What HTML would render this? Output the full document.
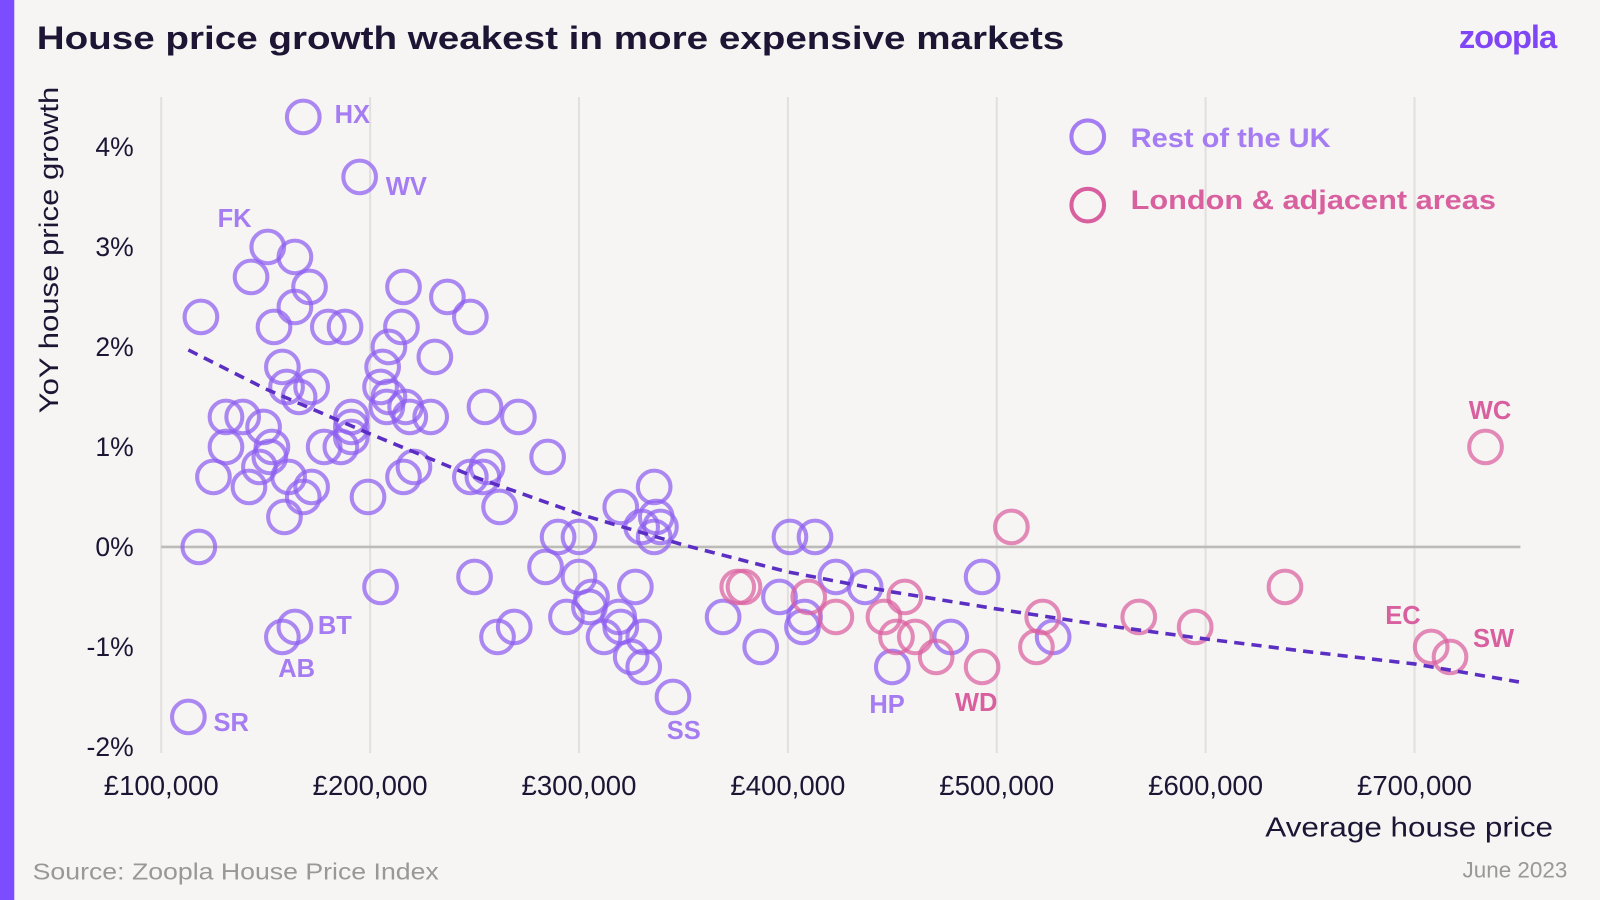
<!DOCTYPE html>
<html><head><meta charset="utf-8"><style>
html,body{margin:0;padding:0;background:#f6f5f3;}
svg{display:block;font-family:"Liberation Sans",sans-serif;}
</style></head><body>
<svg id="chart" width="1600" height="900" viewBox="0 0 1568 882" xmlns="http://www.w3.org/2000/svg">
<rect width="1568" height="882" fill="#f6f5f3"/>
<rect x="0" y="0" width="14" height="882" fill="#7c4dff"/>
<text x="36" y="48" font-size="32" font-weight="bold" fill="#1e1535" textLength="1007" lengthAdjust="spacingAndGlyphs">House price growth weakest in more expensive markets</text>
<text x="1525" y="47" text-anchor="end" font-size="32" font-weight="bold" fill="#8046f5" letter-spacing="-1">zoopla</text>
<g id="grid"></g>
<g id="marks"></g>
<g id="labels"></g>
<text transform="translate(57,245) rotate(-90)" text-anchor="middle" font-size="26" fill="#1e1535" textLength="320" lengthAdjust="spacingAndGlyphs">YoY house price growth</text>
<text x="1522" y="820" text-anchor="end" font-size="27" fill="#1e1535" textLength="282" lengthAdjust="spacingAndGlyphs">Average house price</text>
<text x="32" y="862" font-size="23" fill="#9a9794" textLength="398" lengthAdjust="spacingAndGlyphs">Source: Zoopla House Price Index</text>
<text x="1536" y="860" text-anchor="end" font-size="22" fill="#9a9794">June 2023</text>
<g>
<circle cx="1066" cy="134" r="16" fill="none" stroke="#a57cf2" stroke-width="4"/>
<text x="1108" y="144" font-size="26" font-weight="bold" fill="#a57cf2" textLength="196" lengthAdjust="spacingAndGlyphs">Rest of the UK</text>
<circle cx="1066" cy="201" r="16" fill="none" stroke="#d9609f" stroke-width="4"/>
<text x="1108" y="205" font-size="26" font-weight="bold" fill="#d9609f" textLength="358" lengthAdjust="spacingAndGlyphs">London &amp; adjacent  areas</text>
</g>
</svg>
<script>
const xTicks=[100,200,300,400,500,600,700];
const yTicks=[4,3,2,1,0,-1,-2];
const restX=[168,195,151,164,143,171,164,119,154,180,188,158,160,172,166,131,139,149,153,131,152,147,161,125,142,172,168,159,118,178,186,191,191,191,216,215,209,206,205,209,208,217,219,229,231,237,248,221,216,199,255,271,285,248,256,254,262,205,250,158,164,113,290,300,284,300,306,305,294,261,269,320,336,337,330,339,336,327,319,320,312,331,325,331,345,369,387,401,413,396,407,408,423,437,450,478,493,527];
const restY=[4.3,3.7,3.0,2.9,2.7,2.6,2.4,2.3,2.2,2.2,2.2,1.8,1.6,1.6,1.5,1.3,1.3,1.2,1.0,1.0,0.9,0.8,0.7,0.7,0.6,0.6,0.5,0.3,0.0,1.0,1.0,1.1,1.2,1.3,2.6,2.2,2.0,1.8,1.6,1.5,1.4,1.4,1.3,1.3,1.9,2.5,2.3,0.8,0.7,0.5,1.4,1.3,0.9,0.7,0.8,0.7,0.4,-0.4,-0.3,-0.9,-0.8,-1.7,0.1,0.1,-0.2,-0.3,-0.5,-0.6,-0.7,-0.9,-0.8,0.4,0.6,0.3,0.2,0.2,0.1,-0.4,-0.7,-0.8,-0.9,-0.9,-1.1,-1.2,-1.5,-0.7,-1.0,0.1,0.1,-0.5,-0.8,-0.7,-0.3,-0.4,-1.2,-0.9,-0.3,-0.9];
const londonX=[376,379,410,423,446,452,461,456,471,493,507,522,519,568,595,638,708,717,734];
const londonY=[-0.4,-0.4,-0.5,-0.7,-0.7,-0.9,-0.9,-0.5,-1.1,-1.2,0.2,-0.7,-1.0,-0.7,-0.8,-0.4,-1.0,-1.1,1.0];
const trendX=[113,150,200,250,300,350,400,450,500,550,600,650,700,750];
const trendY=[1.97,1.58,1.13,0.70,0.33,0.02,-0.25,-0.45,-0.62,-0.78,-0.92,-1.05,-1.17,-1.35];
const labelNames=["HX","WV","FK","BT","AB","SR","SS","HP","WD","EC","SW","WC"];
const labelX=[183,207.5,127,175,156,125,342,439,480,686,728,726];
const labelY=[4.24,3.52,3.2,-0.87,-1.30,-1.84,-1.92,-1.66,-1.64,-0.77,-1.0,1.28];
const labelLondon=[0,0,0,0,0,0,0,0,1,1,1,1];

const NS="http://www.w3.org/2000/svg";
const xs=v=>158+(v-100)*2.047;
const ys=v=>536-v*98;
function mk(tag,attrs,parent){const e=document.createElementNS(NS,tag);for(const k in attrs)e.setAttribute(k,attrs[k]);parent.appendChild(e);return e;}
const grid=document.getElementById('grid'),marks=document.getElementById('marks'),labels=document.getElementById('labels');
xTicks.forEach(t=>{
  const l=mk('line',{x1:xs(t),x2:xs(t),y1:95,y2:738,stroke:'#e2e0dd','stroke-width':2},grid);
  
  
  const tx=mk('text',{x:xs(t),y:779,'text-anchor':'middle','font-size':27,fill:'#1e1535'},grid);
  tx.textContent='£'+t+',000';
  
  
});
yTicks.forEach(t=>{
  const tx=mk('text',{x:131,y:ys(t)+9,'text-anchor':'end','font-size':26,fill:'#1e1535'},grid);
  tx.textContent=t+'%';
  
  
});
const zl=mk('line',{x1:158,x2:1490,y1:ys(0),y2:ys(0),stroke:'#bdbbb8','stroke-width':2.5},grid);


restX.forEach((v,i)=>{
  const c=mk('circle',{cx:xs(v),cy:ys(restY[i]),r:16,fill:'none',stroke:'#8e5ef0','stroke-width':4,'stroke-opacity':0.72},marks);
  
  
});
londonX.forEach((v,i)=>{
  const c=mk('circle',{cx:xs(v),cy:ys(londonY[i]),r:16,fill:'none',stroke:'#d9609f','stroke-width':4,'stroke-opacity':0.72},marks);
  
  
});
const pts=trendX.map((v,i)=>xs(v)+','+ys(trendY[i])).join(' ');
const tl=mk('polyline',{points:pts,fill:'none',stroke:'#5b2fc4','stroke-width':3.5,'stroke-dasharray':'10,7'},marks);


labelNames.forEach((n,i)=>{
  const t=mk('text',{x:xs(labelX[i]),y:ys(labelY[i]),'font-size':25,'font-weight':'bold',fill:labelLondon[i]?'#d9609f':'#a57cf2'},labels);
  t.textContent=n;
  
  
});
</script>
</body></html>
